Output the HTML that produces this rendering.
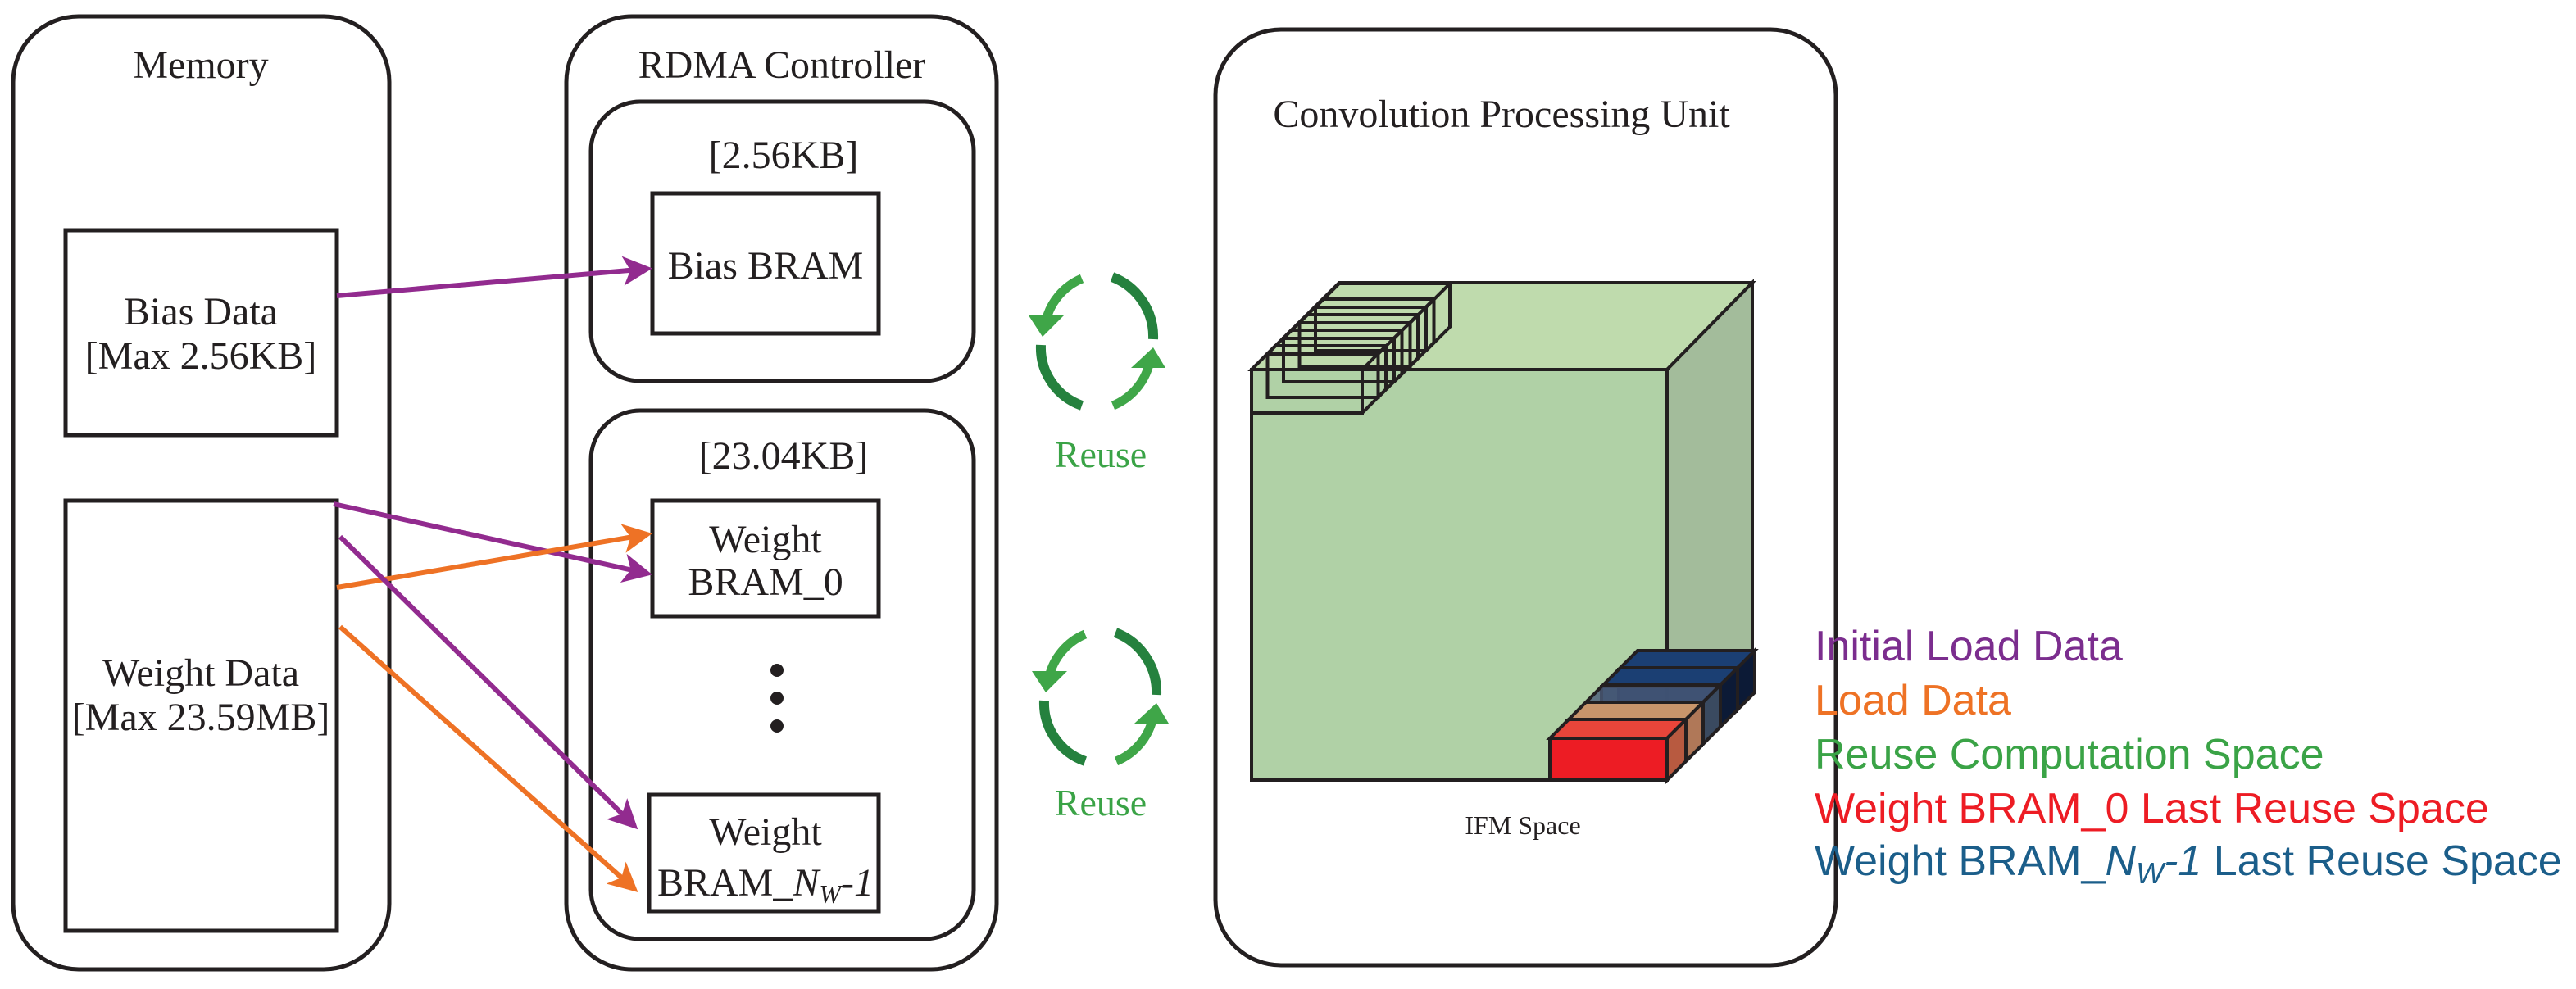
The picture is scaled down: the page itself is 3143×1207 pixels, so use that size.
<!DOCTYPE html>
<html><head><meta charset="utf-8"><style>
html,body{margin:0;padding:0;background:#fff;}
svg{display:block;}
.s{font-family:"Liberation Serif",serif;fill:#231f20;}
.l{font-family:"Liberation Sans",sans-serif;font-size:52px;}
</style></head><body>
<svg width="3143" height="1207" viewBox="0 0 3143 1207" xmlns="http://www.w3.org/2000/svg">
<defs>
<marker id="ap" markerWidth="6" markerHeight="6" refX="5" refY="3" orient="auto" markerUnits="strokeWidth"><path d="M0,0 L6,3 L0,6 L1.5,3 z" fill="#922b8f"/></marker>
<marker id="ao" markerWidth="6" markerHeight="6" refX="5" refY="3" orient="auto" markerUnits="strokeWidth"><path d="M0,0 L6,3 L0,6 L1.5,3 z" fill="#ee7225"/></marker>
</defs>
<g fill="none" stroke="#231f20" stroke-width="5">
<rect x="16" y="20" width="459" height="1163" rx="80"/>
<rect x="691" y="20" width="525" height="1163" rx="80"/>
<rect x="721" y="124" width="467" height="341" rx="60"/>
<rect x="721" y="501" width="467" height="645" rx="60"/>
<rect x="1483" y="36" width="757" height="1142" rx="80"/>
<rect x="80" y="281" width="331" height="250"/>
<rect x="80" y="611" width="331" height="525"/>
<rect x="796" y="236" width="276" height="171"/>
<rect x="796" y="611" width="276" height="141"/>
<rect x="792" y="970" width="280" height="142"/>
</g>
<circle cx="948" cy="818" r="8" fill="#231f20"/>
<circle cx="948" cy="852" r="8" fill="#231f20"/>
<circle cx="948" cy="886" r="8" fill="#231f20"/>
<g class="s" font-size="48" text-anchor="middle">
<text x="245" y="95">Memory</text>
<text x="954" y="95">RDMA Controller</text>
<text x="956" y="205">[2.56KB]</text>
<text x="934" y="340">Bias BRAM</text>
<text x="956" y="572">[23.04KB]</text>
<text x="934" y="674">Weight</text>
<text x="934" y="726">BRAM_0</text>
<text x="934" y="1031">Weight</text>
<text x="934" y="1093">BRAM_<tspan font-style="italic">N</tspan><tspan font-style="italic" font-size="32" dy="9">W</tspan><tspan font-style="italic" dy="-9">-1</tspan></text>
<text x="245" y="396">Bias Data</text>
<text x="245" y="450">[Max 2.56KB]</text>
<text x="245" y="837">Weight Data</text>
<text x="245" y="891">[Max 23.59MB]</text>
<text x="1832" y="155">Convolution Processing Unit</text>
<text x="1858" y="1018" font-size="32">IFM Space</text>
<text x="1343" y="570" style="fill:#3aa346" font-size="46">Reuse</text>
<text x="1343" y="995" style="fill:#3aa346" font-size="46">Reuse</text>
</g>
<g stroke-width="6" fill="none">
<line x1="411" y1="361" x2="790" y2="328" stroke="#922b8f" marker-end="url(#ap)"/>
<line x1="407" y1="615" x2="790" y2="700" stroke="#922b8f" marker-end="url(#ap)"/>
<line x1="411" y1="717" x2="790" y2="652" stroke="#ee7225" marker-end="url(#ao)"/>
<line x1="415" y1="655" x2="774" y2="1008" stroke="#922b8f" marker-end="url(#ap)"/>
<line x1="415" y1="765" x2="774" y2="1085" stroke="#ee7225" marker-end="url(#ao)"/>
</g>
<g id="r1">
<path d="M1320,340 A75 75 0 0 0 1276,392" fill="none" stroke="#3fa648" stroke-width="11"/>
<polygon points="1255,385 1298,385 1272,411" fill="#3fa648"/>
<path d="M1357,338 A78 78 0 0 1 1407,414" fill="none" stroke="#25813e" stroke-width="12"/>
<path d="M1270,421 A75 75 0 0 0 1320,495" fill="none" stroke="#25813e" stroke-width="12"/>
<path d="M1358,495 A75 75 0 0 0 1402,445" fill="none" stroke="#3fa648" stroke-width="11"/>
<polygon points="1380,449 1422,449 1407,424" fill="#3fa648"/>
</g>
<use href="#r1" transform="translate(4,434)"/>
<g stroke="#231f20" stroke-width="4">
<polygon points="1527,451 1634,345 2138,345 2034,451" fill="#bfdbad"/>
<polygon points="2034,451 2138,345 2138,846 2034,952" fill="#a3bc9b"/>
<rect x="1527" y="451" width="507" height="501" fill="#b0d1a6"/>
</g>
<g fill="none" stroke="#231f20" stroke-width="4">
<g id="sb">
<rect x="1527" y="451" width="135" height="53"/>
<polyline points="1527,451 1556,422 1691,422 1662,451"/>
<polyline points="1691,422 1691,475 1662,504"/>
</g>
<use href="#sb" transform="translate(19.5,-19)"/>
<use href="#sb" transform="translate(39,-38)"/>
<use href="#sb" transform="translate(58.5,-57)"/>
<use href="#sb" transform="translate(78,-76)"/>
</g>
<g stroke="#231f20" stroke-width="4">
<g transform="translate(84,-84)"><rect x="1891" y="901" width="143" height="51" fill="#0f2a5a" fill-opacity="0.85"/><polygon points="1891,901 1914,878 2057,878 2034,901" fill="#1b3f73"/><polygon points="2034,901 2057,878 2057,929 2034,952" fill="#0c1a36"/></g>
<g transform="translate(63,-63)"><rect x="1891" y="901" width="143" height="51" fill="#14305e" fill-opacity="0.8"/><polygon points="1891,901 1914,878 2057,878 2034,901" fill="#1b3f73"/><polygon points="2034,901 2057,878 2057,929 2034,952" fill="#0c1a36"/></g>
<g transform="translate(42,-42)"><rect x="1891" y="901" width="143" height="51" fill="#3a2b50" fill-opacity="0.75"/><polygon points="1891,901 1914,878 2057,878 2034,901" fill="#4a5a78" fill-opacity="0.8"/><polygon points="2034,901 2057,878 2057,929 2034,952" fill="#3a4a60"/></g>
<g transform="translate(21,-21)"><rect x="1891" y="901" width="143" height="51" fill="#8a3040" fill-opacity="0.8"/><polygon points="1891,901 1914,878 2057,878 2034,901" fill="#c8956b"/><polygon points="2034,901 2057,878 2057,929 2034,952" fill="#b07858"/></g>
<g><rect x="1891" y="901" width="143" height="51" fill="#ed1c24"/><polygon points="1891,901 1914,878 2057,878 2034,901" fill="#e8453a"/><polygon points="2034,901 2057,878 2057,929 2034,952" fill="#b85a40"/></g>
</g>
<g class="l">
<text x="2214" y="806" fill="#7b2d8e">Initial Load Data</text>
<text x="2214" y="872" fill="#ee7225">Load Data</text>
<text x="2214" y="938" fill="#3aa346">Reuse Computation Space</text>
<text x="2214" y="1004" fill="#ed1c24">Weight BRAM_0 Last Reuse Space</text>
<text x="2214" y="1068" fill="#1b5e8a">Weight BRAM_<tspan font-style="italic">N</tspan><tspan font-style="italic" font-size="36" dy="10">W</tspan><tspan font-style="italic" dy="-10">-1</tspan> Last Reuse Space</text>
</g>
</svg>
</body></html>
